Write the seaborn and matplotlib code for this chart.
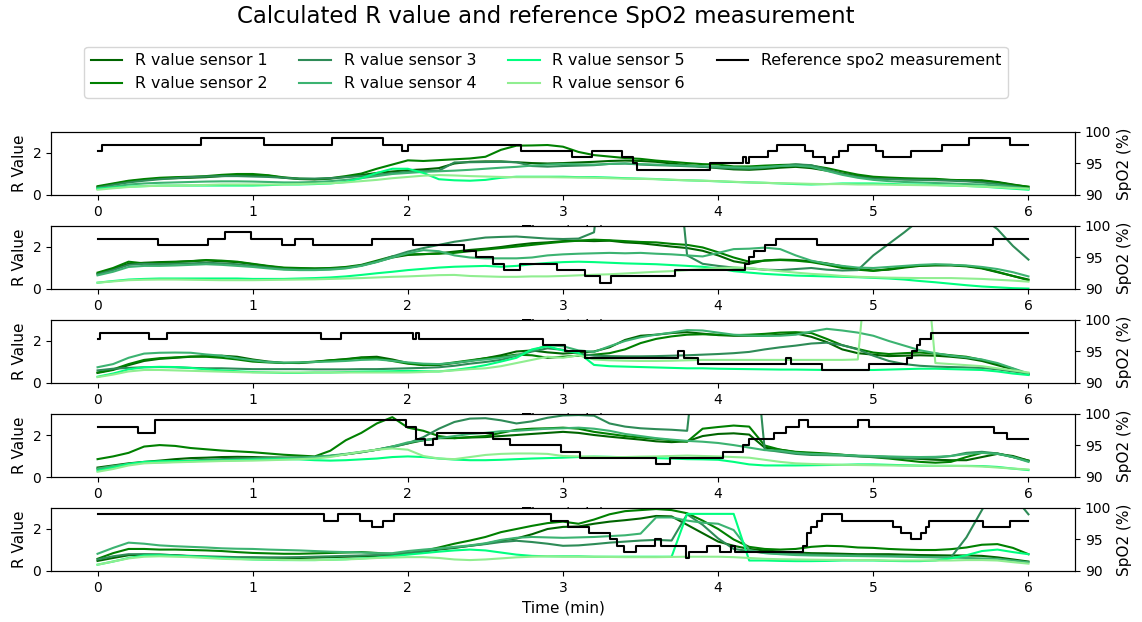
import numpy as np
import pandas as pd
import matplotlib
matplotlib.use("Agg")
import matplotlib.pyplot as plt
from matplotlib.lines import Line2D
import seaborn as sns

# Sample times (minutes), one sample every 0.1 min
TIME_MIN = np.round(np.arange(61) * 0.1, 1)

SENSOR_LABELS = [f"R value sensor {i}" for i in range(1, 7)]
SENSOR_COLORS = ["darkgreen", "green", "seagreen", "mediumseagreen", "springgreen", "lightgreen"]
REF_LABEL = "Reference spo2 measurement"

# ---- Recording 1 ----
rec1_s1 = [.38, .52, .65, .72, .78, .80, .82, .85, .90, .93,
           .95, .92, .82, .76, .74, .78, .86, .95, 1.05, 1.12,
           1.18, 1.22, 1.28, 1.50, 1.58, 1.60, 1.60, 1.56, 1.52, 1.50,
           1.52, 1.55, 1.58, 1.62, 1.64, 1.62, 1.58, 1.50, 1.42, 1.35,
           1.28, 1.22, 1.20, 1.24, 1.30, 1.34, 1.28, 1.16, 1.02, .90,
           .82, .78, .76, .75, .73, .71, .70, .70, .62, .50, .38]
rec1_s2 = [.42, .55, .68, .76, .82, .85, .87, .90, .96, 1.00,
           1.00, .94, .84, .78, .76, .80, .90, 1.02, 1.25, 1.45,
           1.65, 1.62, 1.66, 1.70, 1.74, 1.82, 2.15, 2.35, 2.36, 2.38,
           2.30, 2.05, 1.90, 1.83, 1.76, 1.72, 1.64, 1.58, 1.52, 1.47,
           1.45, 1.36, 1.36, 1.40, 1.43, 1.45, 1.40, 1.28, 1.12, .97,
           .87, .83, .80, .78, .77, .72, .70, .67, .60, .48, .40]
rec1_s3 = [.35, .48, .60, .68, .75, .80, .85, .88, .90, .90,
           .88, .86, .82, .78, .78, .80, .85, .90, .96, 1.04,
           1.10, 1.14, 1.16, 1.55, 1.56, 1.57, 1.58, 1.56, 1.38, 1.35,
           1.38, 1.40, 1.42, 1.48, 1.50, 1.45, 1.42, 1.40, 1.37, 1.34,
           1.30, 1.27, 1.25, 1.30, 1.38, 1.46, 1.42, 1.22, 1.00, .86,
           .78, .76, .73, .72, .70, .68, .65, .60, .52, .42, .30]
rec1_s4 = [.30, .40, .50, .55, .58, .60, .62, .64, .65, .65,
           .64, .62, .60, .60, .62, .66, .72, .80, .90, 1.00,
           1.05, 1.10, 1.13, 1.16, 1.20, 1.25, 1.30, 1.34, 1.40, 1.45,
           1.48, 1.46, 1.45, 1.48, 1.50, 1.47, 1.45, 1.42, 1.40, 1.37,
           1.35, 1.32, 1.30, 1.33, 1.38, 1.40, 1.34, 1.15, .96, .82,
           .72, .66, .62, .60, .57, .55, .52, .50, .45, .38, .30]
rec1_s5 = [.30, .35, .40, .42, .45, .45, .45, .45, .45, .45,
           .45, .47, .50, .50, .52, .55, .62, .80, 1.05, 1.25,
           1.25, 1.05, .75, .70, .68, .72, .82, .87, .87, .87,
           .87, .85, .85, .83, .80, .78, .76, .72, .70, .68,
           .65, .62, .60, .58, .55, .52, .50, .52, .55, .55,
           .55, .53, .50, .50, .48, .45, .43, .40, .35, .30, .25]
rec1_s6 = [.25, .32, .38, .42, .44, .45, .46, .48, .50, .50,
           .50, .50, .50, .52, .54, .56, .60, .66, .72, .80,
           .86, .92, .95, .93, .90, .88, .86, .85, .85, .85,
           .84, .83, .82, .80, .78, .77, .75, .73, .70, .68,
           .66, .63, .60, .58, .56, .55, .53, .52, .52, .50,
           .50, .49, .48, .47, .46, .45, .43, .40, .37, .33, .30]
rec1_spo2_t = [0.00, 0.03, 0.67, 1.07, 1.51, 1.84, 1.96, 2.00, 2.73, 3.06, 3.19,
               3.38, 3.45, 3.48, 3.95, 4.16, 4.18, 4.20, 4.32, 4.38, 4.56, 4.61,
               4.69, 4.74, 4.78, 4.84, 5.02, 5.06, 5.24, 5.44, 5.62, 5.88, 6.00]
rec1_spo2 = [97, 98, 99, 98, 99, 98, 97, 98, 97, 96, 97,
             96, 95, 94, 95, 96, 95, 96, 97, 98, 97, 96,
             95, 96, 97, 98, 97, 96, 97, 98, 99, 98, 98]

# ---- Recording 2 ----
rec2_s1 = [.72, .95, 1.20, 1.25, 1.28, 1.30, 1.33, 1.36, 1.32, 1.28,
           1.18, 1.08, 1.00, .98, .97, .98, 1.02, 1.12, 1.30, 1.50,
           1.62, 1.66, 1.70, 1.78, 1.86, 1.92, 2.00, 2.10, 2.18, 2.22,
           2.28, 2.30, 2.28, 2.30, 2.22, 2.18, 2.10, 2.02, 1.95, 1.82,
           1.60, 1.32, 1.20, 1.36, 1.40, 1.38, 1.32, 1.22, 1.08, .95,
           .88, .92, 1.02, 1.10, 1.12, 1.12, 1.08, .98, .80, .62, .45]
rec2_s2 = [.78, 1.00, 1.30, 1.22, 1.25, 1.28, 1.32, 1.38, 1.35, 1.30,
           1.20, 1.10, 1.02, 1.00, .98, 1.00, 1.05, 1.15, 1.35, 1.55,
           1.65, 1.66, 1.68, 1.72, 1.80, 1.88, 1.95, 2.02, 2.10, 2.18,
           2.25, 2.30, 2.35, 2.32, 2.28, 2.24, 2.22, 2.15, 2.10, 1.98,
           1.75, 1.50, 1.30, 1.35, 1.38, 1.35, 1.28, 1.15, 1.00, .92,
           .86, .95, 1.05, 1.12, 1.15, 1.15, 1.10, 1.00, .82, .62, .42]
rec2_s3 = [.70, .90, 1.15, 1.20, 1.18, 1.20, 1.22, 1.25, 1.22, 1.18,
           1.10, 1.02, .95, .92, .92, .95, 1.00, 1.12, 1.30, 1.55,
           1.78, 1.95, 2.10, 2.25, 2.35, 2.45, 2.48, 2.50, 2.45, 2.40,
           2.38, 2.40, 2.70, 9.00, 9.00, 9.00, 9.00, 9.00, 1.60, 1.20,
           1.10, 1.02, .98, .92, .90, .95, 1.00, .92, .88, .90,
           1.60, 2.15, 2.70, 3.30, 3.90, 4.40, 4.60, 3.40, 2.85, 2.05, 1.40]
rec2_s4 = [.65, .82, 1.05, 1.10, 1.10, 1.12, 1.15, 1.18, 1.15, 1.10,
           1.05, .98, .92, .90, .90, .92, .98, 1.10, 1.28, 1.50,
           1.70, 1.85, 1.80, 1.60, 1.50, 1.46, 1.46, 1.46, 1.50, 1.60,
           1.65, 1.68, 1.70, 1.72, 1.70, 1.72, 1.68, 1.65, 1.60, 1.55,
           1.72, 1.90, 1.92, 1.97, 1.90, 1.60, 1.35, 1.20, 1.10, 1.02,
           1.00, 1.05, 1.10, 1.15, 1.18, 1.15, 1.12, 1.05, .95, .80, .60]
rec2_s5 = [.30, .38, .45, .48, .50, .50, .50, .50, .50, .50,
           .48, .48, .48, .50, .52, .55, .60, .67, .75, .82,
           .90, .96, 1.02, 1.06, 1.08, 1.10, 1.06, 1.10, 1.18, 1.24,
           1.28, 1.30, 1.28, 1.25, 1.22, 1.20, 1.18, 1.14, 1.10, 1.06,
           .98, .85, .78, .72, .68, .64, .62, .60, .58, .56,
           .53, .50, .45, .38, .32, .25, .18, .12, .08, .04, .02]
rec2_s6 = [.30, .36, .42, .44, .45, .45, .44, .43, .42, .42,
           .42, .43, .44, .45, .46, .48, .50, .52, .55, .58,
           .60, .63, .66, .67, .62, .60, .58, .58, .60, .60,
           .62, .65, .68, .70, .74, .78, .82, .85, .90, .95,
           1.00, 1.02, 1.00, .92, .85, .78, .72, .68, .62, .58,
           .56, .54, .53, .52, .52, .52, .50, .48, .44, .40, .35]
rec2_spo2_t = [0.00, 0.39, 0.71, 0.82, 0.99, 1.19, 1.27, 1.39, 1.77, 2.03, 2.36,
               2.44, 2.55, 2.62, 2.72, 2.96, 3.14, 3.24, 3.31, 3.72, 4.17, 4.20,
               4.23, 4.30, 4.37, 4.64, 5.77, 6.00]
rec2_spo2 = [98, 97, 98, 99, 98, 97, 98, 97, 98, 97, 96,
             95, 94, 93, 94, 93, 92, 91, 92, 93, 94, 95,
             96, 97, 98, 97, 98, 98]

# ---- Recording 3 ----
rec3_s1 = [.48, .62, .85, 1.05, 1.15, 1.20, 1.25, 1.28, 1.30, 1.25,
           1.12, 1.02, .96, .95, 1.00, 1.08, 1.14, 1.22, 1.25, 1.12,
           .95, .86, .86, .95, 1.05, 1.18, 1.32, 1.50, 1.55, 1.46,
           1.40, 1.45, 1.50, 1.70, 2.05, 2.25, 2.30, 2.38, 2.42, 2.35,
           2.28, 2.25, 2.25, 2.25, 2.30, 2.36, 2.20, 1.95, 1.60, 1.42,
           1.35, 1.28, 1.30, 1.32, 1.30, 1.25, 1.18, 1.05, .85, .65, .40]
rec3_s2 = [.50, .65, .90, 1.10, 1.18, 1.22, 1.26, 1.25, 1.20, 1.12,
           1.02, .98, .95, .97, 1.02, 1.08, 1.12, 1.20, 1.18, 1.05,
           .92, .85, .88, .98, 1.08, 1.18, 1.25, 1.35, 1.32, 1.20,
           1.25, 1.30, 1.35, 1.42, 1.60, 1.90, 2.10, 2.22, 2.30, 2.32,
           2.30, 2.28, 2.30, 2.34, 2.40, 2.42, 2.38, 2.10, 1.80, 1.62,
           1.45, 1.38, 1.42, 1.45, 1.40, 1.32, 1.25, 1.10, .90, .68, .42]
rec3_s3 = [.60, .68, .72, .75, .76, .75, .72, .70, .70, .68,
           .66, .66, .66, .66, .65, .65, .65, .66, .66, .68,
           .70, .72, .75, .82, .92, 1.00, 1.10, 1.30, 1.50, 1.65,
           1.58, 1.40, 1.30, 1.28, 1.27, 1.27, 1.28, 1.30, 1.32, 1.35,
           1.38, 1.42, 1.48, 1.60, 1.70, 1.78, 1.88, 1.92, 1.80, 1.60,
           1.30, 1.05, .90, .82, .78, .76, .74, .72, .65, .55, .45]
rec3_s4 = [.75, .90, 1.20, 1.40, 1.44, 1.45, 1.44, 1.36, 1.30, 1.18,
           1.08, 1.00, .97, .98, 1.00, 1.02, 1.05, 1.10, 1.12, 1.06,
           .98, .92, .90, .96, 1.05, 1.12, 1.20, 1.32, 1.55, 1.80,
           1.75, 1.55, 1.48, 1.75, 2.00, 2.18, 2.30, 2.40, 2.52, 2.50,
           2.40, 2.30, 2.26, 2.24, 2.25, 2.30, 2.45, 2.58, 2.50, 2.40,
           2.25, 2.00, 1.78, 1.56, 1.42, 1.30, 1.22, 1.12, .95, .70, .45]
rec3_s5 = [.30, .45, .65, .75, .77, .76, .72, .65, .60, .56,
           .52, .50, .48, .48, .50, .50, .52, .54, .55, .56,
           .58, .56, .55, .62, .72, .85, 1.02, 1.20, 1.60, 1.75,
           1.55, 1.44, .86, .80, .78, .76, .74, .72, .70, .70,
           .68, .67, .66, .65, .64, .64, .63, .62, .62, .62,
           .62, .64, .66, .68, .68, .66, .64, .62, .55, .45, .38]
rec3_s6 = [.28, .40, .55, .62, .62, .60, .58, .56, .54, .52,
           .50, .50, .50, .50, .50, .50, .50, .50, .50, .50,
           .50, .52, .55, .60, .66, .70, .80, .95, 1.10, 1.25,
           1.20, 1.32, 1.12, 1.08, 1.06, 1.05, 1.05, 1.06, 1.08, 1.10,
           1.10, 1.10, 1.10, 1.10, 1.10, 1.10, 1.10, 1.10, 1.10, 1.12,
           9.00, 9.00, 9.00, 9.00, .95, .90, .85, .80, .70, .60, .50]
rec3_spo2_t = [0.00, 0.015, 0.33, 0.45, 1.44, 1.57, 2.03, 2.05, 2.075, 2.87, 3.01,
               3.14, 3.74, 3.78, 3.87, 4.44, 4.47, 4.67, 4.97, 5.22, 5.25, 5.28,
               5.30, 5.37, 6.00]
rec3_spo2 = [97, 98, 97, 98, 97, 98, 97, 98, 97, 96, 95,
             94, 95, 94, 93, 94, 93, 92, 93, 94, 95, 96,
             97, 98, 98]

# ---- Recording 4 ----
rec4_s1 = [.45, .55, .65, .72, .78, .85, .90, .92, .95, .96,
           .95, .93, .92, .92, .95, 1.00, 1.08, 1.18, 1.30, 1.45,
           1.60, 1.75, 1.85, 1.85, 1.88, 1.90, 1.95, 2.00, 2.05, 2.10,
           2.15, 2.10, 2.00, 1.92, 1.85, 1.78, 1.70, 1.66, 1.70, 1.95,
           2.05, 2.08, 2.02, 1.40, 1.30, 1.18, 1.12, 1.08, 1.05, 1.00,
           .98, .95, .90, .86, .82, .80, .80, .95, 1.10, 1.00, .78]
rec4_s2 = [.85, .98, 1.15, 1.45, 1.52, 1.48, 1.38, 1.32, 1.26, 1.22,
           1.18, 1.12, 1.06, 1.02, .98, 1.25, 1.75, 2.10, 2.55, 2.85,
           2.35, 2.20, 1.95, 1.85, 1.90, 1.95, 2.10, 2.25, 2.30, 2.32,
           2.35, 2.30, 2.15, 2.05, 1.95, 1.88, 1.82, 1.75, 1.68, 2.30,
           2.38, 2.45, 2.40, 1.50, 1.30, 1.20, 1.16, 1.12, 1.06, 1.00,
           .94, .88, .80, .72, .68, .72, .95, 1.15, 1.12, .95, .78]
rec4_s3 = [.38, .50, .62, .70, .72, .74, .78, .82, .85, .88,
           .90, .92, .92, .92, .95, 1.00, 1.08, 1.18, 1.30, 1.42,
           1.60, 1.90, 2.30, 2.62, 2.78, 2.80, 2.70, 2.55, 2.65, 2.82,
           2.93, 2.95, 2.92, 2.55, 2.40, 2.32, 2.28, 2.25, 2.20, 9.00,
           9.00, 9.00, 9.00, 1.30, 1.20, 1.10, 1.05, 1.04, 1.02, .98,
           .96, .92, .90, .90, .92, 1.00, 1.15, 1.20, 1.12, .95, .75]
rec4_s4 = [.40, .52, .62, .68, .70, .72, .75, .78, .80, .82,
           .85, .88, .90, .92, .96, 1.02, 1.10, 1.20, 1.30, 1.45,
           1.65, 1.75, 1.85, 1.95, 2.05, 2.10, 2.18, 2.20, 2.25, 2.30,
           2.32, 2.35, 2.30, 2.20, 2.05, 1.95, 1.85, 1.78, 1.72, 1.68,
           1.62, 1.52, 1.40, 1.28, 1.25, 1.15, 1.10, 1.08, 1.05, 1.02,
           1.00, .98, .96, .95, .96, 1.00, 1.10, 1.15, 1.10, .95, .72]
rec4_s5 = [.30, .45, .62, .72, .75, .76, .76, .77, .78, .80,
           .82, .84, .85, .84, .80, .78, .80, .84, .88, .95,
           .98, .95, .88, .83, .80, .80, .82, .85, .88, .90,
           .92, .95, .97, .96, .94, .92, .90, .88, .85, .84,
           .82, .72, .60, .55, .55, .55, .56, .57, .58, .60,
           .60, .58, .56, .54, .53, .53, .53, .52, .48, .40, .33]
rec4_s6 = [.25, .38, .55, .65, .68, .70, .72, .74, .76, .77,
           .78, .80, .82, .85, .88, .95, 1.08, 1.20, 1.30, 1.36,
           1.30, 1.00, .88, .85, .95, 1.05, 1.10, 1.12, 1.12, 1.10,
           1.00, .98, .97, .95, .95, .97, .98, 1.00, 1.02, 1.00,
           .98, .95, .92, .82, .72, .65, .62, .60, .58, .57,
           .56, .55, .54, .54, .53, .53, .52, .50, .45, .40, .36]
rec4_spo2_t = [0.00, 0.26, 0.37, 1.99, 2.05, 2.11, 2.16, 2.19, 2.55, 2.66, 2.99,
               3.11, 3.60, 3.69, 4.03, 4.16, 4.20, 4.36, 4.44, 4.52, 4.58, 4.90,
               4.97, 5.78, 5.86, 6.00]
rec4_spo2 = [98, 97, 99, 98, 96, 95, 96, 97, 96, 95, 94,
             93, 92, 93, 94, 95, 96, 97, 98, 99, 98, 99,
             98, 97, 96, 96]

# ---- Recording 5 ----
rec5_s1 = [.48, .62, .75, .78, .78, .75, .70, .66, .63, .62,
           .62, .62, .62, .62, .64, .66, .68, .70, .72, .76,
           .82, .92, 1.02, 1.10, 1.20, 1.30, 1.45, 1.55, 1.75, 2.00,
           2.10, 2.12, 2.25, 2.35, 2.42, 2.50, 2.62, 2.60, 2.20, 1.80,
           1.40, 1.20, 1.05, .98, .92, .88, .85, .84, .82, .80,
           .80, .80, .78, .76, .75, .74, .74, .72, .65, .55, .45]
rec5_s2 = [.58, .85, 1.05, 1.05, 1.02, 1.02, 1.00, .98, .95, .90,
           .86, .84, .82, .82, .84, .86, .88, .90, .86, .80,
           .85, .95, 1.12, 1.30, 1.45, 1.62, 1.85, 2.00, 2.15, 2.28,
           2.35, 2.25, 2.45, 2.70, 2.85, 2.90, 2.95, 2.90, 2.75, 2.40,
           2.00, 1.50, 1.15, 1.05, 1.02, 1.05, 1.15, 1.20, 1.18, 1.12,
           1.10, 1.05, 1.02, 1.00, 1.00, 1.04, 1.12, 1.25, 1.28, 1.10, .80]
rec5_s3 = [.55, .70, .80, .80, .78, .75, .72, .70, .68, .66,
           .66, .65, .65, .66, .68, .70, .72, .74, .76, .80,
           .86, .95, 1.05, 1.12, 1.20, 1.28, 1.38, 1.44, 1.38, 1.30,
           1.20, 1.22, 1.28, 1.35, 1.40, 1.45, 1.48, 1.45, 2.70, 2.20,
           1.55, 1.05, .95, .86, .82, .80, .78, .76, .75, .74,
           .73, .72, .70, .68, .66, .64, 1.60, 2.90, 4.20, 3.60, 2.70]
rec5_s4 = [.82, 1.10, 1.35, 1.30, 1.22, 1.18, 1.15, 1.12, 1.08, 1.06,
           1.05, 1.02, 1.00, .98, .95, .92, .90, .88, .85, .85,
           .95, 1.02, 1.08, 1.15, 1.22, 1.32, 1.48, 1.58, 1.62, 1.60,
           1.58, 1.60, 1.62, 1.66, 1.70, 1.78, 2.55, 2.55, 2.40, 2.30,
           2.25, 1.95, 1.00, .85, .80, .76, .74, .73, .72, .71,
           .70, .69, .68, .66, .65, .64, .62, .60, .58, .50, .42]
rec5_s5 = [.30, .45, .62, .74, .75, .72, .70, .66, .62, .58,
           .55, .53, .52, .52, .52, .54, .56, .60, .64, .70,
           .78, .85, .92, .98, 1.02, .98, .88, .78, .72, .70,
           .70, .70, .68, .68, .68, .68, .68, .68, 2.72, 2.72,
           2.72, 2.72, .50, .50, .48, .47, .47, .48, .50, .50,
           .50, .48, .47, .47, .50, .60, .75, .95, 1.02, .90, .80]
rec5_s6 = [.30, .45, .60, .68, .70, .68, .66, .62, .58, .56,
           .55, .54, .53, .52, .52, .53, .55, .58, .62, .64,
           .66, .66, .62, .55, .52, .55, .60, .65, .68, .70,
           .68, .68, .68, .67, .66, .66, .66, .67, .68, .68,
           .68, .66, .62, .58, .56, .55, .54, .53, .53, .52,
           .52, .50, .50, .50, .50, .50, .52, .52, .50, .42, .35]
rec5_spo2_t = [0.00, 1.46, 1.55, 1.69, 1.77, 1.84, 1.91, 2.92, 3.03, 3.17, 3.30,
               3.35, 3.39, 3.47, 3.59, 3.63, 3.79, 3.81, 3.93, 4.01, 4.08, 4.11,
               4.55, 4.57, 4.60, 4.64, 4.67, 4.80, 5.13, 5.18, 5.24, 5.31, 5.34,
               5.36, 5.71, 5.88, 6.00]
rec5_spo2 = [99, 98, 99, 98, 97, 98, 99, 98, 97, 96, 95,
             94, 93, 94, 95, 94, 92, 93, 94, 93, 94, 93,
             94, 96, 97, 98, 99, 98, 97, 96, 95, 96, 97,
             98, 97, 98, 98]

recordings = [
    ([rec1_s1, rec1_s2, rec1_s3, rec1_s4, rec1_s5, rec1_s6], rec1_spo2_t, rec1_spo2),
    ([rec2_s1, rec2_s2, rec2_s3, rec2_s4, rec2_s5, rec2_s6], rec2_spo2_t, rec2_spo2),
    ([rec3_s1, rec3_s2, rec3_s3, rec3_s4, rec3_s5, rec3_s6], rec3_spo2_t, rec3_spo2),
    ([rec4_s1, rec4_s2, rec4_s3, rec4_s4, rec4_s5, rec4_s6], rec4_spo2_t, rec4_spo2),
    ([rec5_s1, rec5_s2, rec5_s3, rec5_s4, rec5_s5, rec5_s6], rec5_spo2_t, rec5_spo2),
]

W, H = 1142, 622
fig = plt.figure(figsize=(W / 100, H / 100), dpi=100)
axes = fig.subplots(5, 1)
fig.subplots_adjust(left=51 / W, right=1075 / W, bottom=1 - 571 / H, top=1 - 132 / H,
                    hspace=31 / 63)

palette = dict(zip(SENSOR_LABELS, SENSOR_COLORS))

for ax, (sensors, spo2_t, spo2_v) in zip(axes, recordings):
    df = pd.DataFrame({
        "time": np.tile(TIME_MIN, len(sensors)),
        "r": np.concatenate([np.asarray(s, dtype=float) for s in sensors]),
        "sensor": np.repeat(SENSOR_LABELS, len(TIME_MIN)),
    })
    sns.lineplot(data=df, x="time", y="r", hue="sensor", hue_order=SENSOR_LABELS,
                 palette=palette, estimator=None, legend=False, linewidth=1.5, ax=ax)
    ax.set_xlim(-0.3, 6.3)
    ax.set_ylim(0, 3)
    ax.set_yticks([0, 2])
    ax.set_xticks(range(7))
    ax.set_xlabel("Time (min)", fontsize=11)
    ax.set_ylabel("R Value", fontsize=11)

    tw = ax.twinx()
    sns.lineplot(x=spo2_t, y=spo2_v, color="black", estimator=None, sort=False,
                 drawstyle="steps-post", linewidth=1.5, ax=tw)
    tw.set_ylim(90, 100)
    tw.set_yticks([90, 95, 100])
    tw.set_ylabel("SpO2 (%)", fontsize=11)
    ax.set_xlim(-0.3, 6.3)

handles = [Line2D([], [], color=c, lw=1.5) for c in SENSOR_COLORS]
handles.append(Line2D([], [], color="black", lw=1.5))
fig.legend(handles, SENSOR_LABELS + [REF_LABEL], loc="upper center",
           bbox_to_anchor=(546 / W, 1 - 47 / H), borderaxespad=0, ncol=4, fontsize=11.4)

fig.suptitle("Calculated R value and reference SpO2 measurement", fontsize=16.5,
             x=546 / W, y=1 - 16 / H, va="center")

fig.savefig("out.png", dpi=100)
